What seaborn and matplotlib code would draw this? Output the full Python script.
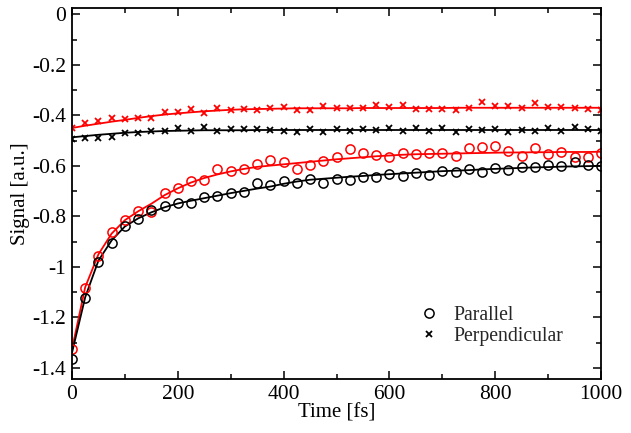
import numpy as np
import pandas as pd
import matplotlib
matplotlib.use("Agg")
import matplotlib.pyplot as plt
from matplotlib.lines import Line2D
from matplotlib.ticker import MultipleLocator, FuncFormatter
import seaborn as sns

# ---- data ----
time_fs = [0, 25, 50, 75, 100, 125, 150, 175, 200, 225, 250, 275, 300, 325, 350,
           375, 400, 425, 450, 475, 500, 525, 550, 575, 600, 625, 650, 675, 700,
           725, 750, 775, 800, 825, 850, 875, 900, 925, 950, 975, 1000]

par_red = [-1.326, -1.085, -0.957, -0.861, -0.815, -0.778, -0.784, -0.706, -0.689, -0.658,
           -0.656, -0.613, -0.619, -0.614, -0.594, -0.577, -0.586, -0.614, -0.597, -0.580,
           -0.564, -0.535, -0.551, -0.557, -0.566, -0.548, -0.553, -0.551, -0.548, -0.559,
           -0.528, -0.527, -0.520, -0.540, -0.560, -0.531, -0.553, -0.544, -0.564, -0.566,
           -0.548]
par_black = [-1.365, -1.125, -0.980, -0.907, -0.838, -0.811, -0.775, -0.758, -0.749, -0.746,
             -0.722, -0.720, -0.709, -0.702, -0.667, -0.676, -0.659, -0.666, -0.652, -0.667,
             -0.654, -0.656, -0.643, -0.643, -0.634, -0.639, -0.627, -0.636, -0.619, -0.626,
             -0.614, -0.626, -0.610, -0.617, -0.604, -0.606, -0.597, -0.601, -0.584, -0.597,
             -0.601]
perp_red = [-0.451, -0.432, -0.421, -0.412, -0.416, -0.409, -0.412, -0.386, -0.386, -0.375,
            -0.390, -0.372, -0.379, -0.375, -0.379, -0.372, -0.368, -0.379, -0.379, -0.362,
            -0.372, -0.372, -0.372, -0.359, -0.366, -0.359, -0.375, -0.375, -0.375, -0.379,
            -0.370, -0.349, -0.362, -0.363, -0.372, -0.352, -0.366, -0.366, -0.372, -0.375,
            -0.379]
perp_black = [-0.494, -0.491, -0.489, -0.485, -0.471, -0.471, -0.462, -0.462, -0.452, -0.461,
              -0.448, -0.461, -0.455, -0.455, -0.455, -0.458, -0.461, -0.465, -0.456, -0.467,
              -0.456, -0.462, -0.456, -0.459, -0.452, -0.462, -0.452, -0.460, -0.452, -0.466,
              -0.455, -0.459, -0.455, -0.466, -0.459, -0.460, -0.449, -0.460, -0.446, -0.456,
              -0.460]

# fitted curves (at the same times)
fit_par_red = [-1.326, -1.080, -0.950, -0.868, -0.815, -0.780, -0.750, -0.716, -0.689, -0.666,
               -0.648, -0.634, -0.622, -0.612, -0.604, -0.599, -0.594, -0.589, -0.584, -0.579,
               -0.574, -0.570, -0.566, -0.562, -0.559, -0.556, -0.554, -0.553, -0.552, -0.551,
               -0.550, -0.549, -0.548, -0.547, -0.547, -0.546, -0.546, -0.545, -0.545, -0.545,
               -0.544]
fit_par_black = [-1.340, -1.120, -0.975, -0.895, -0.840, -0.808, -0.784, -0.764, -0.749, -0.738,
                 -0.728, -0.718, -0.708, -0.699, -0.690, -0.682, -0.671, -0.662, -0.655, -0.651,
                 -0.647, -0.643, -0.640, -0.636, -0.633, -0.630, -0.627, -0.624, -0.621, -0.619,
                 -0.617, -0.614, -0.612, -0.610, -0.608, -0.606, -0.605, -0.603, -0.602, -0.601,
                 -0.600]
fit_perp_red = [-0.450, -0.441, -0.433, -0.425, -0.418, -0.410, -0.403, -0.397, -0.392, -0.388,
                -0.384, -0.381, -0.378, -0.376, -0.375, -0.374, -0.373, -0.372, -0.372, -0.372,
                -0.372, -0.372, -0.371, -0.371, -0.371, -0.371, -0.371, -0.371, -0.371, -0.370,
                -0.370, -0.370, -0.370, -0.370, -0.370, -0.370, -0.370, -0.370, -0.370, -0.370,
                -0.370]
fit_perp_black = [-0.487, -0.482, -0.477, -0.473, -0.469, -0.466, -0.464, -0.462, -0.461, -0.460,
                  -0.459, -0.459, -0.459, -0.459, -0.458, -0.458, -0.458, -0.458, -0.458, -0.458,
                  -0.458, -0.458, -0.458, -0.458, -0.458, -0.458, -0.458, -0.458, -0.458, -0.458,
                  -0.458, -0.458, -0.458, -0.458, -0.458, -0.458, -0.458, -0.458, -0.458, -0.458,
                  -0.458]

legend_labels = ["Parallel", "Perpendicular"]

# ---- style ----
sns.set_theme(style="ticks")
plt.rcParams["font.family"] = ["Liberation Serif", "DejaVu Serif"]
plt.rcParams["font.size"] = 15
plt.rcParams["axes.linewidth"] = 1.1

RED = "#ff0000"
BLACK = "#000000"
TICK_FS = 15.5
LABEL_FS = 15
LEGEND_FS = 14.2

fig = plt.figure(figsize=(6.31, 4.33), dpi=100)
ax = fig.add_axes([0.1141, 0.1247, 0.8384, 0.8562])


def draw_fit(y, c):
    sns.lineplot(x=time_fs, y=y, ax=ax, color=c, linewidth=1.3,
                 estimator=None, sort=False, legend=False)


def draw_pts(y, c, marker):
    if marker == "o":
        sns.lineplot(x=time_fs, y=y, ax=ax, color=c, linestyle="none",
                     marker="o", markersize=6.6, markerfacecolor="none",
                     markeredgecolor=c, markeredgewidth=1.1,
                     estimator=None, sort=False, legend=False)
    else:
        sns.lineplot(x=time_fs, y=y, ax=ax, color=c, linestyle="none",
                     marker="x", markersize=4.6, markeredgecolor=c,
                     markeredgewidth=1.3,
                     estimator=None, sort=False, legend=False)


draw_fit(fit_perp_red, RED)
draw_fit(fit_perp_black, BLACK)
draw_fit(fit_par_red, RED)
draw_fit(fit_par_black, BLACK)
draw_pts(perp_red, RED, "x")
draw_pts(perp_black, BLACK, "x")
draw_pts(par_red, RED, "o")
draw_pts(par_black, BLACK, "o")

ax.set_xlim(0, 1000)
ax.set_ylim(-1.444, 0.024)
ax.xaxis.set_major_locator(MultipleLocator(200))
ax.xaxis.set_minor_locator(MultipleLocator(100))
ax.yaxis.set_major_locator(MultipleLocator(0.2))
ax.yaxis.set_minor_locator(MultipleLocator(0.1))


def yfmt(v, pos):
    v = round(v, 6)
    if abs(v) < 1e-9:
        return "0"
    return "%g" % v


ax.yaxis.set_major_formatter(FuncFormatter(yfmt))
ax.xaxis.set_major_formatter(FuncFormatter(lambda v, p: "%d" % round(v)))

ax.tick_params(which="both", direction="in", top=True, right=True,
               color="black", labelsize=TICK_FS, labelcolor="black")
ax.tick_params(which="major", length=6, width=1.1, pad=4)
ax.tick_params(which="minor", length=3.5, width=1.1)
for s in ax.spines.values():
    s.set_color("black")
    s.set_linewidth(1.3)

ax.set_xlabel("Time [fs]", fontsize=LABEL_FS, color="black", labelpad=0)
ax.set_ylabel("Signal [a.u.]", fontsize=LABEL_FS, color="black", labelpad=2)

handles = [
    Line2D([], [], linestyle="none", marker="o", markersize=6.6, markerfacecolor="none",
           markeredgecolor=BLACK, markeredgewidth=1.1),
    Line2D([], [], linestyle="none", marker="x", markersize=4.3, markeredgecolor=BLACK,
           markeredgewidth=1.3),
]
ax.legend(handles, legend_labels, loc="upper left", bbox_to_anchor=(0.657, 0.197),
          frameon=False, handlelength=0.95, handletextpad=0.75, borderpad=0,
          borderaxespad=0, labelspacing=0.12, fontsize=LEGEND_FS)

fig.savefig("out.png", dpi=100)
